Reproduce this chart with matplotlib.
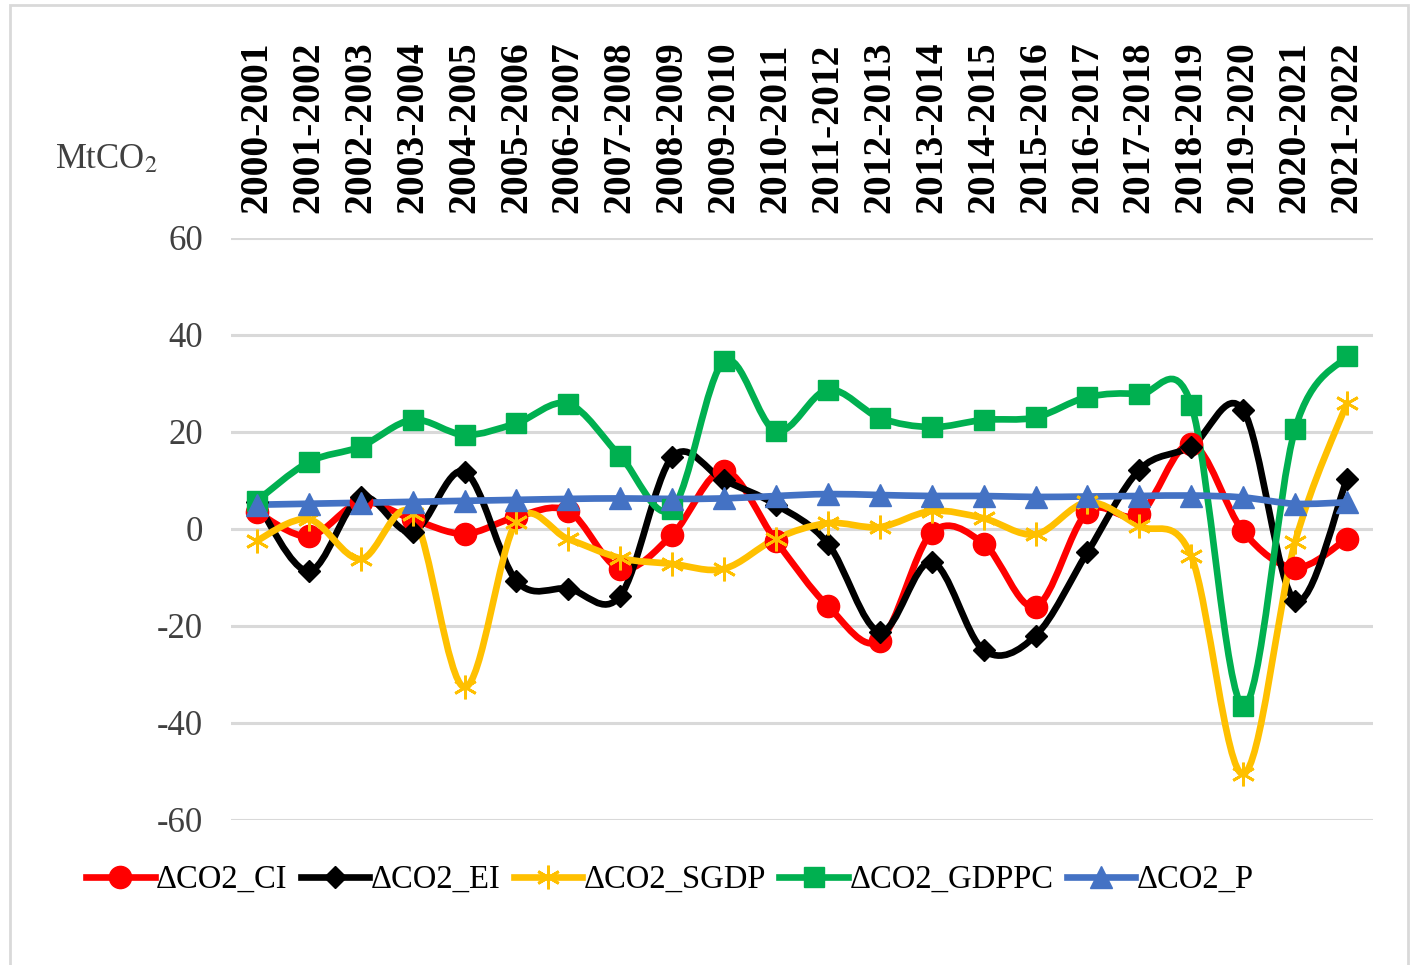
import matplotlib
matplotlib.use("Agg")
import matplotlib.pyplot as plt
from matplotlib.path import Path
from matplotlib.patches import PathPatch, Rectangle
from matplotlib.lines import Line2D

plt.rcParams['font.family'] = ['Liberation Serif', 'DejaVu Serif']
plt.rcParams['mathtext.fontset'] = 'stix'
plt.rcParams['axes.unicode_minus'] = False

# data
periods = ["2000-2001", "2001-2002", "2002-2003", "2003-2004", "2004-2005", "2005-2006",
           "2006-2007", "2007-2008", "2008-2009", "2009-2010", "2010-2011", "2011-2012",
           "2012-2013", "2013-2014", "2014-2015", "2015-2016", "2016-2017", "2017-2018",
           "2018-2019", "2019-2020", "2020-2021", "2021-2022"]

co2_ci = [3.5, -1.5, 5.5, 2.0, -1.0, 2.5, 3.7, -8.2, -1.2, 12.0, -2.5, -15.9,
          -23.0, -0.8, -3.0, -16.0, 3.5, 3.0, 17.5, -0.5, -8.0, -2.0]
co2_ei = [5.5, -8.7, 6.5, -0.6, 11.8, -10.7, -12.3, -13.8, 14.8, 10.0, 5.0, -3.0,
          -21.2, -6.8, -25.0, -22.0, -4.8, 12.2, 17.0, 24.5, -14.8, 10.3]
co2_sgdp = [-2.4, 2.0, -6.2, 3.0, -32.6, 1.5, -2.1, -6.0, -7.2, -8.2, -2.0, 1.2,
            0.4, 3.7, 2.2, -1.1, 5.5, 0.6, -5.6, -50.5, -2.7, 26.0]
co2_gdppc = [5.8, 13.8, 17.0, 22.5, 19.4, 21.8, 25.8, 15.0, 4.2, 34.6, 20.2, 28.7,
             22.9, 21.0, 22.5, 23.0, 27.2, 27.8, 25.6, -36.5, 20.6, 35.7]
co2_p = [5.0, 5.2, 5.4, 5.6, 5.8, 6.0, 6.2, 6.3, 6.2, 6.3, 6.8, 7.2,
         7.0, 6.8, 6.8, 6.6, 6.7, 6.8, 6.9, 6.5, 5.2, 5.5]

series = [
    ("ΔCO2_CI", co2_ci, "#FF0000", "o", 16),
    ("ΔCO2_EI", co2_ei, "#000000", "D", 11),
    ("ΔCO2_SGDP", co2_sgdp, "#FFC000", (6, 2, 0), 17),
    ("ΔCO2_GDPPC", co2_gdppc, "#00B050", "s", 14),
    ("ΔCO2_P", co2_p, "#4472C4", "^", 16),
]


def smooth_path(xs, ys):
    # bezier curve through the points, like excel's smoothed line
    pts = list(zip(xs, ys))
    n = len(pts)
    verts = [pts[0]]
    codes = [Path.MOVETO]
    for i in range(n - 1):
        p0 = pts[i - 1] if i > 0 else pts[i]
        p1 = pts[i]
        p2 = pts[i + 1]
        p3 = pts[i + 2] if i + 2 < n else pts[i + 1]
        c1 = (p1[0] + (p2[0] - p0[0]) / 6, p1[1] + (p2[1] - p0[1]) / 6)
        c2 = (p2[0] - (p3[0] - p1[0]) / 6, p2[1] - (p3[1] - p1[1]) / 6)
        verts += [c1, c2, p2]
        codes += [Path.CURVE4] * 3
    return Path(verts, codes)


fig = plt.figure(figsize=(14.16, 9.65), dpi=100)
ax = fig.add_axes([0.1631, 0.1503, 0.8065, 0.6031])

x = list(range(len(periods)))
handles = []
for name, vals, color, marker, ms in series:
    patch = PathPatch(smooth_path(x, vals), facecolor="none", edgecolor=color,
                      lw=4.8, capstyle="round", joinstyle="round", zorder=3)
    ax.add_patch(patch)
    mew = 2 if marker == (6, 2, 0) else 1
    ax.plot(x, vals, linestyle="none", marker=marker, markersize=ms, color=color,
            markeredgecolor=color, markeredgewidth=mew, zorder=4)
    handles.append(Line2D([], [], color=color, lw=4.8, marker=marker, markersize=ms,
                          markeredgecolor=color, markeredgewidth=mew))

ax.set_xlim(-0.5, len(periods) - 0.5)
ax.set_ylim(-60, 60)
ax.set_yticks([-60, -40, -20, 0, 20, 40, 60])
ax.grid(axis="y", color="#d9d9d9", lw=2.2)
ax.set_axisbelow(True)
for s in ax.spines.values():
    s.set_visible(False)

ax.xaxis.tick_top()
ax.set_xticks(x)
ax.set_xticklabels(periods, rotation=90, fontsize=28.5, fontweight="bold", color="black")
ax.tick_params(axis="x", length=0, pad=18)
ax.tick_params(axis="y", length=0, pad=20, labelsize=25, labelcolor="#404040")

fig.text(55 / 1416, 1 - 160 / 965, r"MtCO$_2$", fontsize=25, color="#404040",
         ha="left", va="center")

fig.legend(handles, [s[0] for s in series], loc="center left",
           bbox_to_anchor=(86 / 1416, 1 - 880 / 965), ncol=5, frameon=False,
           fontsize=23.5, handlelength=2.1, handletextpad=0.05, columnspacing=0.4,
           borderaxespad=0, borderpad=0)

fig.patches.append(Rectangle((10 / 1416, -0.05), 1398 / 1416, 1.05 - 5 / 965,
                             transform=fig.transFigure, fill=False,
                             edgecolor="#d9d9d9", lw=2))

fig.savefig("out.png", dpi=100)
